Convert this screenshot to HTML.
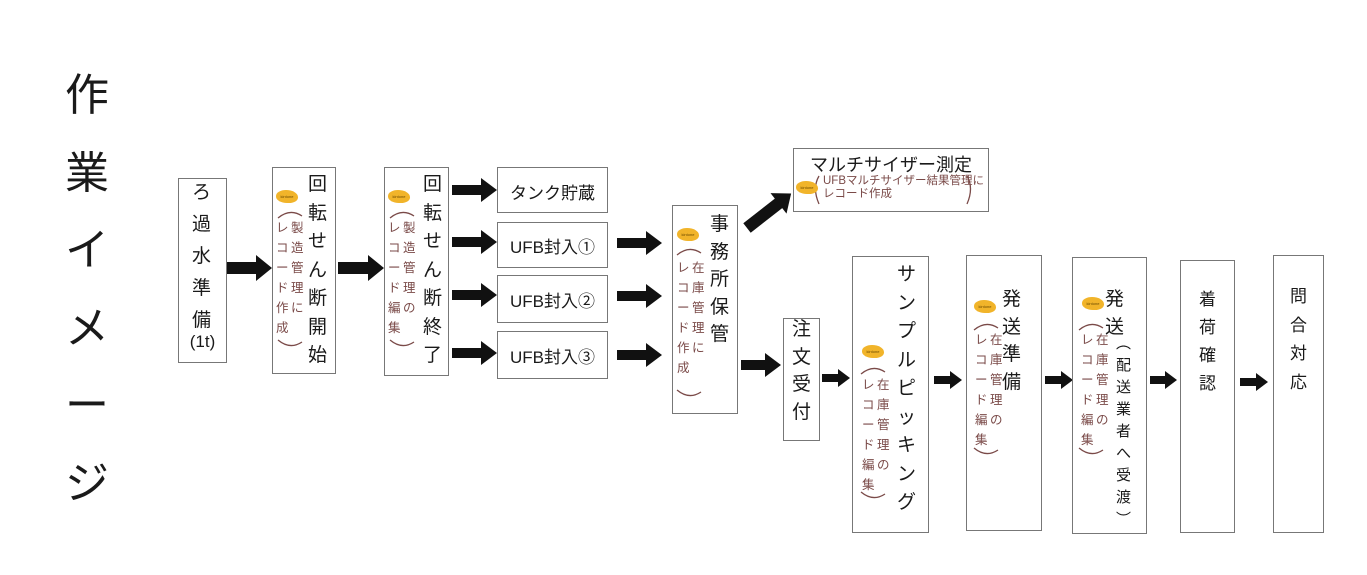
<!DOCTYPE html>
<html><head><meta charset="utf-8">
<style>
body{margin:0;width:1367px;height:575px;background:#fff;position:relative;overflow:hidden;font-family:"Liberation Sans","Noto Sans CJK JP",sans-serif;color:#1a1a1a}
.c{position:absolute;width:1em;line-break:anywhere;word-break:break-all;text-align:center;white-space:normal}
.m{font-size:19px}
.r{font-size:12.5px;color:#7a4a48;line-height:20px}
.b{position:absolute;border:1.3px solid #777;box-sizing:border-box;background:transparent}
.h{position:absolute;font-size:17px;text-align:center;white-space:nowrap}
.k{position:absolute;width:22px;height:13px;background:#f1b42a;border-radius:50% 60% 45% 55%;font-size:4px;color:#6b4a00;text-align:center;line-height:13px}
svg{position:absolute;left:0;top:0}
</style></head><body>
<svg width="1367" height="575">
<g fill="#111">
<polygon points="226,262 256,262 256,255 272,268 256,281 256,274 226,274"/>
<polygon points="338,262 368,262 368,255 384,268 368,281 368,274 338,274"/>
<polygon points="452,185 481,185 481,178 497,190 481,202 481,195 452,195"/>
<polygon points="452,237 481,237 481,230 497,242 481,254 481,247 452,247"/>
<polygon points="452,290 481,290 481,283 497,295 481,307 481,300 452,300"/>
<polygon points="452,348 481,348 481,341 497,353 481,365 481,358 452,358"/>
<polygon points="617,238 646,238 646,231 662,243 646,255 646,248 617,248"/>
<polygon points="617,291 646,291 646,284 662,296 646,308 646,301 617,301"/>
<polygon points="617,350 646,350 646,343 662,355 646,367 646,360 617,360"/>
<polygon points="741,360 765,360 765,353 781,365 765,377 765,370 741,370"/>
<polygon transform="translate(747,228) rotate(-38)" points="0,-6 40,-6 40,-13 56,0 40,13 40,6 0,6"/>
<polygon points="822,374 838,374 838,369 850,378 838,387 838,382 822,382"/>
<polygon points="934,376 950,376 950,371 962,380 950,389 950,384 934,384"/>
<polygon points="1045,376 1061,376 1061,371 1073,380 1061,389 1061,384 1045,384"/>
<polygon points="1150,376 1165,376 1165,371 1177,380 1165,389 1165,384 1150,384"/>
<polygon points="1240,378 1256,378 1256,373 1268,382 1256,391 1256,386 1240,386"/>
</g>
<g fill="none" stroke="#7a4a48" stroke-width="1.3">
<path d="M278,218 Q290,208 302,216"/><path d="M278,340 Q290,350 302,342"/>
<path d="M390,218 Q402,208 414,216"/><path d="M390,340 Q402,350 414,342"/>
<path d="M677,255 Q689,245 701,253"/><path d="M677,390 Q689,400 701,392"/>
<path d="M861,374 Q873,364 885,372"/><path d="M861,492 Q873,502 885,494"/>
<path d="M974,330 Q986,320 998,328"/><path d="M974,448 Q986,458 998,450"/>
<path d="M1079,330 Q1091,320 1103,328"/><path d="M1079,448 Q1091,458 1103,450"/>
<path d="M819,176 Q812,188 819,204"/><path d="M967,176 Q974,188 967,204"/>
</g>
</svg>

<div class="c" style="left:65px;top:57px;font-size:44px;line-height:77.5px">作業イメージ</div>

<div class="b" style="left:178px;top:178px;width:49px;height:185px"></div>
<div class="c m" style="left:192px;top:177px;line-height:32px">ろ過水準備</div>
<div class="h" style="left:178px;top:332px;width:49px">(1t)</div>

<div class="b" style="left:272px;top:167px;width:64px;height:207px"></div>
<div class="k" style="left:276px;top:190px">kintone</div>
<div class="c m" style="left:308px;top:171px;line-height:28.5px">回転せん断開始</div>
<div class="c r" style="left:276px;top:218px">レコード作成</div>
<div class="c r" style="left:291px;top:218px">製造管理に</div>

<div class="b" style="left:384px;top:167px;width:65px;height:209px"></div>
<div class="k" style="left:388px;top:190px">kintone</div>
<div class="c m" style="left:423px;top:171px;line-height:28.5px">回転せん断終了</div>
<div class="c r" style="left:388px;top:218px">レコード編集</div>
<div class="c r" style="left:403px;top:218px">製造管理の</div>

<div class="b" style="left:497px;top:167px;width:111px;height:46px"></div>
<div class="h" style="left:497px;top:179px;width:111px">タンク貯蔵</div>
<div class="b" style="left:497px;top:222px;width:111px;height:46px"></div>
<div class="h" style="left:497px;top:233px;width:111px">UFB封入①</div>
<div class="b" style="left:497px;top:275px;width:111px;height:48px"></div>
<div class="h" style="left:497px;top:287px;width:111px">UFB封入②</div>
<div class="b" style="left:497px;top:331px;width:111px;height:48px"></div>
<div class="h" style="left:497px;top:343px;width:111px">UFB封入③</div>

<div class="b" style="left:672px;top:205px;width:66px;height:209px"></div>
<div class="k" style="left:677px;top:228px">kintone</div>
<div class="c m" style="left:710px;top:211px;line-height:27.5px">事務所保管</div>
<div class="c r" style="left:677px;top:258px">レコード作成</div>
<div class="c r" style="left:692px;top:258px">在庫管理に</div>

<div class="b" style="left:793px;top:148px;width:196px;height:64px"></div>
<div class="h" style="left:793px;top:151px;width:196px;font-size:18px">マルチサイザー測定</div>
<div class="k" style="left:796px;top:181px">kintone</div>
<div style="position:absolute;left:823px;top:175px;font-size:11.5px;color:#7a4a48;line-height:13px">UFBマルチサイザー結果管理に<br>レコード作成</div>

<div class="b" style="left:783px;top:318px;width:37px;height:123px"></div>
<div class="c m" style="left:792px;top:316px;line-height:27.5px">注文受付</div>

<div class="b" style="left:852px;top:256px;width:77px;height:277px"></div>
<div class="k" style="left:862px;top:345px">kintone</div>
<div class="c m" style="left:897px;top:261px;line-height:28.5px">サンプルピッキング</div>
<div class="c r" style="left:862px;top:375px">レコード編集</div>
<div class="c r" style="left:877px;top:375px">在庫管理の</div>

<div class="b" style="left:966px;top:255px;width:76px;height:276px"></div>
<div class="k" style="left:974px;top:300px">kintone</div>
<div class="c m" style="left:1002px;top:286px;line-height:27.5px">発送準備</div>
<div class="c r" style="left:975px;top:330px">レコード編集</div>
<div class="c r" style="left:990px;top:330px">在庫管理の</div>

<div class="b" style="left:1072px;top:257px;width:75px;height:277px"></div>
<div class="k" style="left:1082px;top:297px">kintone</div>
<div class="c m" style="left:1105px;top:286px;line-height:27.5px">発送</div>
<div class="c r" style="left:1081px;top:330px">レコード編集</div>
<div class="c r" style="left:1096px;top:330px">在庫管理の</div>
<div class="c" style="left:1116px;top:333px;font-size:15px;line-height:22px">︵配送業者へ受渡︶</div>

<div class="b" style="left:1180px;top:260px;width:55px;height:273px"></div>
<div class="c" style="left:1199px;top:286px;font-size:17px;line-height:28px">着荷確認</div>

<div class="b" style="left:1273px;top:255px;width:51px;height:278px"></div>
<div class="c" style="left:1290px;top:283px;font-size:17px;line-height:28.5px">問合対応</div>
</body></html>
